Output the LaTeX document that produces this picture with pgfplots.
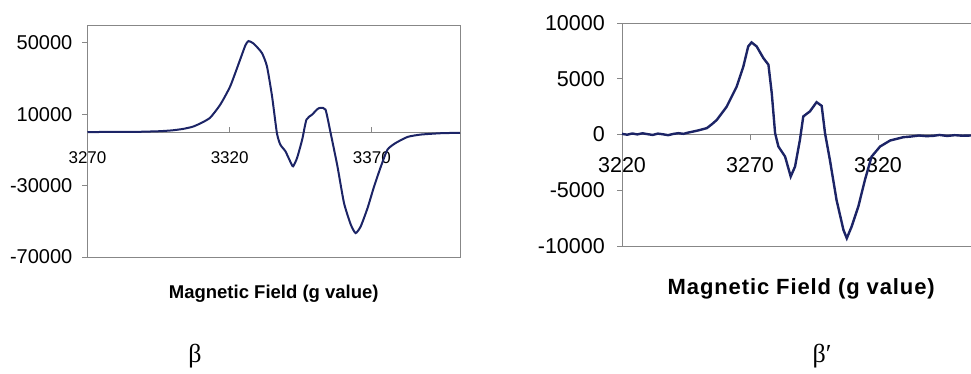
\documentclass[border=0pt]{standalone}
\usepackage{pgfplots}
\pgfplotsset{compat=1.18}
\usepackage{fontspec}
\setmainfont{Liberation Sans}
\newfontfamily\spacedsans[LetterSpace=4]{Liberation Sans}
\newfontfamily\greekserif{Liberation Serif}
\definecolor{curve}{RGB}{28,36,102}
\definecolor{axgray}{RGB}{135,135,135}

\begin{document}
\begin{tikzpicture}[x=1pt,y=1pt]
\useasboundingbox (0,0) rectangle (971,373);
% ---------------- left chart (beta) ----------------
\begin{axis}[
  at={(87.5pt,116pt)}, anchor=south west, scale only axis,
  width=372.5pt, height=232pt,
  xmin=3270, xmax=3401, ymin=-70000, ymax=60000,
  axis x line=middle, axis y line=left,
  axis line style={axgray, line width=0.9pt, -},
  clip=false,
  scaled x ticks=false, scaled y ticks=false,
  hide obscured x ticks=false, hide obscured y ticks=false,
  xtick={3270,3320,3370}, xticklabels={3270,3320,3370},
  ytick={-70000,-30000,10000,50000}, yticklabels={-70000,-30000,10000,50000},
  major tick length=5pt,
  tick style={axgray, line width=0.9pt},
  xtick align=inside, ytick align=outside,
  xticklabel style={font=\fontsize{17}{20}\selectfont, inner sep=0pt, anchor=north, yshift=-19pt},
  yticklabel style={font=\fontsize{20}{24}\selectfont, inner sep=0pt, anchor=east, xshift=-10pt},
  xlabel={Magnetic Field (g value)},
  xlabel style={at={(rel axis cs:0.5,0)}, anchor=base, yshift=-41pt, font=\bfseries\fontsize{18.5}{22}\selectfont},
]
\draw[axgray, line width=0.9pt] (rel axis cs:0,0) rectangle (rel axis cs:1,1);
\addplot[curve, line width=2pt, smooth, tension=0.35] coordinates {
(3270,0) (3280,100) (3288,150) (3295.5,500) (3300,1000) (3303.7,1800) (3307,3000)
(3309.6,4800) (3313.1,8000) (3316.7,15400) (3320.2,25700) (3323.7,40700)
(3325.5,48500) (3326.6,51000) (3328.4,49600) (3331.3,44400) (3333.1,36900) (3334.9,20100)
(3336.6,-470) (3337.8,-7000) (3339.6,-10750) (3341.3,-16500) (3342.3,-19200) (3343.7,-14500)
(3345.5,-4200) (3347.0,7000) (3349.0,9800) (3350.8,12800) (3351.9,13600) (3353.7,12600)
(3355.5,-500) (3357.9,-19200) (3360.2,-39700) (3362.6,-51900) (3364.3,-56600)
(3366.1,-52800) (3368.5,-42500) (3370.8,-30400) (3373.2,-19200) (3375.5,-9800)
(3378.4,-6100) (3382.6,-2700) (3387.2,-1400) (3394.2,-650) (3401,-400)
};
\end{axis}
% ---------------- right chart (beta') ----------------
\begin{axis}[
  at={(622pt,127pt)}, anchor=south west, scale only axis,
  width=358.4pt, height=223pt,
  xmin=3220, xmax=3360, ymin=-10000, ymax=10000,
  axis x line=middle, axis y line=left,
  axis line style={axgray, line width=0.9pt, -},
  clip=false,
  scaled x ticks=false, scaled y ticks=false,
  hide obscured x ticks=false, hide obscured y ticks=false,
  xtick={3220,3270,3320}, xticklabels={3220,3270,3320},
  ytick={-10000,-5000,0,5000,10000}, yticklabels={-10000,-5000,0,5000,10000},
  major tick length=5pt,
  tick style={axgray, line width=0.9pt},
  xtick align=outside, ytick align=outside,
  xticklabel style={font=\fontsize{21.5}{25}\selectfont, inner sep=0pt, anchor=north, yshift=-18pt},
  yticklabel style={font=\fontsize{21.5}{25}\selectfont, inner sep=0pt, anchor=east, xshift=-12pt},
  xlabel={\spacedsans\bfseries Magnetic Field (g value)},
  xlabel style={at={(rel axis cs:0.5,0)}, anchor=base, yshift=-48pt, font=\fontsize{22}{26}\selectfont},
]
\draw[axgray, line width=0.9pt] (rel axis cs:0,0) rectangle (rel axis cs:1,1);
\addplot[curve, line width=2.4pt] coordinates {
(3220,60) (3222,-20) (3224,90) (3226,10) (3228,110) (3230,30) (3232,-40)
(3234,80) (3236,20) (3238,-60) (3240,50) (3242,120) (3244,60) (3246,180)
(3247.9,270) (3250,380) (3253.1,570) (3255,900) (3257,1300) (3260.9,2500)
(3264.8,4300) (3267.4,6100) (3269.3,7900) (3270.6,8260) (3272.6,7900)
(3275.2,6860) (3277.2,6260) (3278.5,3700) (3279.8,120) (3281.1,-1080)
(3283.7,-1980) (3285.9,-3770) (3287.6,-2870) (3289.5,-480) (3290.8,1620)
(3293.4,2070) (3296.0,2900) (3298.0,2570) (3299.3,120) (3301.2,-2270)
(3303.8,-5870) (3306.5,-8560) (3307.8,-9310) (3309.7,-8260) (3312.3,-6470)
(3314.9,-4070) (3317.5,-1980) (3320.8,-1080) (3324.7,-540) (3329.9,-240)
(3333,-180) (3336,-90) (3339,-150) (3341.6,-120) (3344,-40) (3347,-130)
(3350,-60) (3353,-110) (3356.3,-90)
};
\end{axis}
% ---------------- captions ----------------
\node[font=\greekserif\fontsize{26}{30}\selectfont, anchor=base] at (195,11) {β};
\node[font=\greekserif\fontsize{26}{30}\selectfont, anchor=base] at (822,11) {β′};
\end{tikzpicture}
\end{document}
